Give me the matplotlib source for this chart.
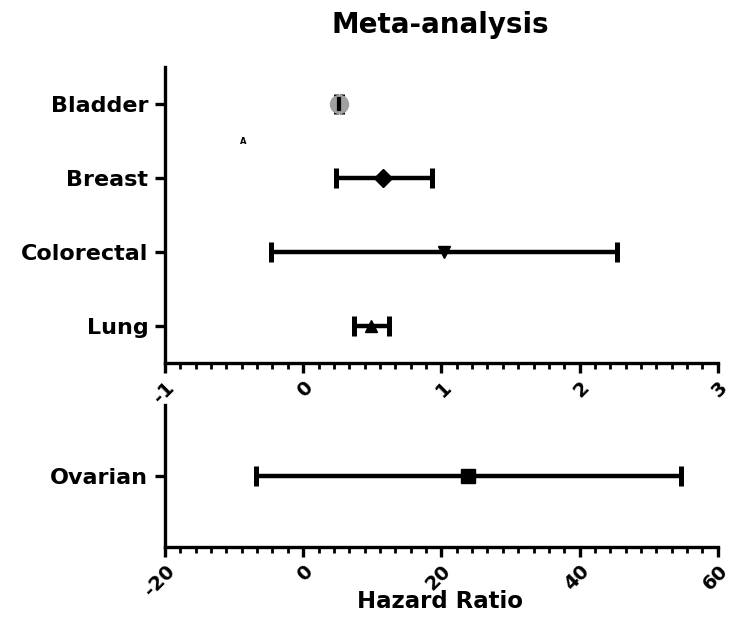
import matplotlib
matplotlib.use("Agg")
from matplotlib import pyplot as plt
from matplotlib.ticker import AutoMinorLocator, MultipleLocator

plt.rcParams['font.family'] = ['DejaVu Sans']
plt.rcParams['font.weight'] = 'bold'
plt.rcParams['axes.unicode_minus'] = False

# Hazard ratios with confidence limits per cancer type
cancers = ["Bladder", "Breast", "Colorectal", "Lung"]
hr = [0.26, 0.58, 1.02, 0.49]
ci_low = [0.24, 0.24, -0.23, 0.37]
ci_high = [0.28, 0.93, 2.27, 0.62]
markers = ["o", "D", "v", "^"]

ovarian_hr = 23.9
ovarian_low = -6.9
ovarian_high = 54.7

fig = plt.figure(figsize=(7.31, 6.33), dpi=100)
ax_top = fig.add_axes([0.2257, 0.4265, 0.7563, 0.4677])
ax_bot = fig.add_axes([0.2257, 0.1359, 0.7563, 0.2243])


def style_axis(ax):
    for side in ("top", "right"):
        ax.spines[side].set_visible(False)
    for side in ("left", "bottom"):
        ax.spines[side].set_linewidth(2.4)
    ax.tick_params(axis="both", which="major", length=7, width=2.4,
                   direction="out", labelsize=14)
    ax.tick_params(axis="x", which="minor", length=4, width=2.0,
                   direction="out")
    ax.tick_params(axis="y", which="major", pad=5)
    ax.xaxis.set_minor_locator(AutoMinorLocator(9))
    for lbl in ax.get_xticklabels():
        lbl.set_rotation(45)
        lbl.set_ha("right")
        lbl.set_rotation_mode("anchor")
        lbl.set_fontweight("bold")
    for lbl in ax.get_yticklabels():
        lbl.set_fontweight("bold")
        lbl.set_fontsize(16)


# upper panel: four cancer types, Bladder at the top
ypos = [4, 3, 2, 1]
for y, h, lo, hi, m, name in zip(ypos, hr, ci_low, ci_high, markers, cancers):
    face = "#a0a0a0" if name == "Bladder" else "black"
    size = 13 if name == "Bladder" else 9
    ax_top.errorbar(h, y, xerr=[[h - lo], [hi - h]], fmt=m, color="black",
                    mfc=face, mec=face, ms=size, elinewidth=3.2,
                    capsize=7, capthick=3.6, zorder=3)
    if name == "Bladder":
        ax_top.plot([h, h], [y - 0.07, y + 0.07], color="black", lw=3, zorder=4)

ax_top.set_xlim(-1, 3)
ax_top.set_ylim(0.5, 4.5)
ax_top.xaxis.set_major_locator(MultipleLocator(1))
ax_top.set_yticks(ypos)
ax_top.set_yticklabels(cancers)
style_axis(ax_top)

# lower panel: ovarian on its own scale
ax_bot.errorbar(ovarian_hr, 1,
                xerr=[[ovarian_hr - ovarian_low], [ovarian_high - ovarian_hr]],
                fmt="s", color="black", ms=10, elinewidth=3.2, capsize=7,
                capthick=3.6, zorder=3)
ax_bot.set_xlim(-20, 60)
ax_bot.set_ylim(0, 2)
ax_bot.xaxis.set_major_locator(MultipleLocator(20))
ax_bot.set_yticks([1])
ax_bot.set_yticklabels(["Ovarian"])
style_axis(ax_bot)

ax_bot.set_xlabel("Hazard Ratio", fontsize=16.5, fontweight="bold")
ax_bot.xaxis.set_label_coords(0.497, -0.30)
fig.text(0.602, 0.96, "Meta-analysis", fontsize=20, fontweight="bold",
         ha="center", va="center")
fig.text(0.333, 0.777, "A", fontsize=6, fontweight="bold", ha="center", va="center")

fig.savefig("out.png", dpi=100)
